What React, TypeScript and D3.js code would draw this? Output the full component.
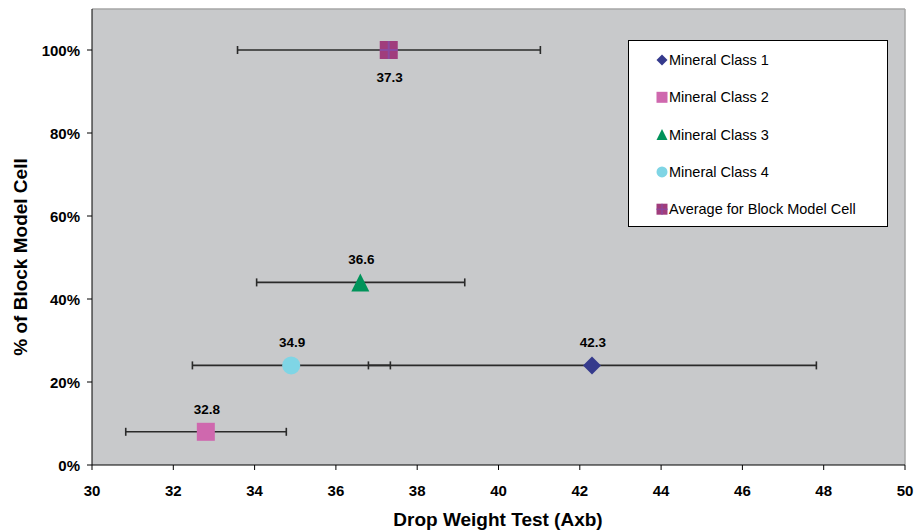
import React from "react";
import * as d3 from "d3";

const seriesNames = ["Mineral Class 1", "Mineral Class 2", "Mineral Class 3", "Mineral Class 4", "Average for Block Model Cell"];
const xValues = [42.3, 32.8, 36.6, 34.9, 37.3];
const yValues = [0.24, 0.08, 0.44, 0.24, 1.0];
const errLow = [36.8, 30.83, 34.05, 32.47, 33.58];
const errHigh = [47.82, 34.78, 39.17, 37.34, 41.03];
const labels = ["42.3", "32.8", "36.6", "34.9", "37.3"];
const labelBelow = [false, false, false, false, true];
const shapes = ["diamond", "square", "triangle", "circle", "squarecross"];
const colors = ["#353a8c", "#cf68ae", "#00935a", "#7fd5e5", "#a03d7c"];
const xTicks = [30, 32, 34, 36, 38, 40, 42, 44, 46, 48, 50];
const yTicks = [0, 0.2, 0.4, 0.6, 0.8, 1.0];

const W = 918, H = 531;
const L = 92, R = 905, T = 9, B = 465;

function Marker({ shape, color, cx, cy, s }: { shape: string; color: string; cx: number; cy: number; s: number }) {
  const h = s / 2;
  if (shape === "diamond") {
    return <path d={`M${cx},${cy - h}L${cx + h},${cy}L${cx},${cy + h}L${cx - h},${cy}Z`} fill={color} />;
  }
  if (shape === "square") {
    return <rect x={cx - h} y={cy - h} width={s} height={s} fill={color} />;
  }
  if (shape === "triangle") {
    return <path d={`M${cx},${cy - h}L${cx + h},${cy + h}L${cx - h},${cy + h}Z`} fill={color} />;
  }
  if (shape === "circle") {
    return <circle cx={cx} cy={cy} r={h} fill={color} />;
  }
  return (
    <g>
      <rect x={cx - h} y={cy - h} width={s} height={s} fill={color} />
      <line x1={cx - h} x2={cx + h} y1={cy} y2={cy} stroke="#8a4aa0" strokeWidth={s / 9} />
      <line x1={cx} x2={cx} y1={cy - h} y2={cy + h} stroke="#8a4aa0" strokeWidth={s / 9} />
    </g>
  );
}

export default function App() {
  const x = d3.scaleLinear().domain([30, 50]).range([L, R]);
  const y = d3.scaleLinear().domain([0, 1]).range([B, 50]);
  const pct = d3.format(".0%");
  const order = [3, 0, 1, 2, 4];
  return (
    <svg width={W} height={H} style={{ position: "absolute", left: 0, top: 0, fontFamily: "Arial, 'Liberation Sans', sans-serif" }}>
      <rect x={0} y={0} width={W} height={H} fill="#fff" />
      <rect x={L} y={T} width={R - L} height={B - T} fill="#c8c9cb" />
      <line x1={L} x2={R} y1={T} y2={T} stroke="#a6a6a6" strokeWidth={1.5} />
      <line x1={R} x2={R} y1={T} y2={B} stroke="#a6a6a6" strokeWidth={1.5} />
      {/* axes */}
      <line x1={L} x2={L} y1={T} y2={B} stroke="#000" />
      <line x1={L} x2={R} y1={B} y2={B} stroke="#000" />
      {xTicks.map((t) => (
        <g key={"xt" + t}>
          <line x1={x(t)} x2={x(t)} y1={B} y2={B + 5} stroke="#000" />
          <text x={x(t)} y={496} textAnchor="middle" fontSize={15} fontWeight="bold">{t}</text>
        </g>
      ))}
      {yTicks.map((t) => (
        <g key={"yt" + t}>
          <line x1={L - 5} x2={L} y1={y(t)} y2={y(t)} stroke="#000" />
          <text x={80} y={y(t) + 5.5} textAnchor="end" fontSize={15} fontWeight="bold">{pct(t)}</text>
        </g>
      ))}
      <text x={498} y={526} textAnchor="middle" fontSize={19} fontWeight="bold">Drop Weight Test (Axb)</text>
      <text transform={`translate(27,257) rotate(-90)`} textAnchor="middle" fontSize={19} fontWeight="bold">% of Block Model Cell</text>
      {/* error bars */}
      {order.map((i) => (
        <g key={"e" + i} stroke="#2a2a2a" strokeWidth={1.6}>
          <line x1={x(errLow[i])} x2={x(errHigh[i])} y1={y(yValues[i])} y2={y(yValues[i])} />
          <line x1={x(errLow[i])} x2={x(errLow[i])} y1={y(yValues[i]) - 4} y2={y(yValues[i]) + 4} />
          <line x1={x(errHigh[i])} x2={x(errHigh[i])} y1={y(yValues[i]) - 4} y2={y(yValues[i]) + 4} />
        </g>
      ))}
      {order.map((i) => (
        <Marker key={"m" + i} shape={shapes[i]} color={colors[i]} cx={x(xValues[i])} cy={y(yValues[i])} s={18} />
      ))}
      {order.map((i) => (
        <text key={"l" + i} x={x(xValues[i]) + 1} y={y(yValues[i]) + (labelBelow[i] ? 32 : -18)} textAnchor="middle" fontSize={13.5} fontWeight="bold">{labels[i]}</text>
      ))}
      {/* legend */}
      <rect x={628.5} y={40.5} width={259} height={186} fill="#fff" stroke="#000" />
      {seriesNames.map((n, i) => (
        <g key={"lg" + i}>
          <Marker shape={shapes[i]} color={colors[i]} cx={662} cy={60 + i * 37.3} s={11} />
          <text x={669} y={60 + i * 37.3 + 5} fontSize={14.5}>{n}</text>
        </g>
      ))}
    </svg>
  );
}
